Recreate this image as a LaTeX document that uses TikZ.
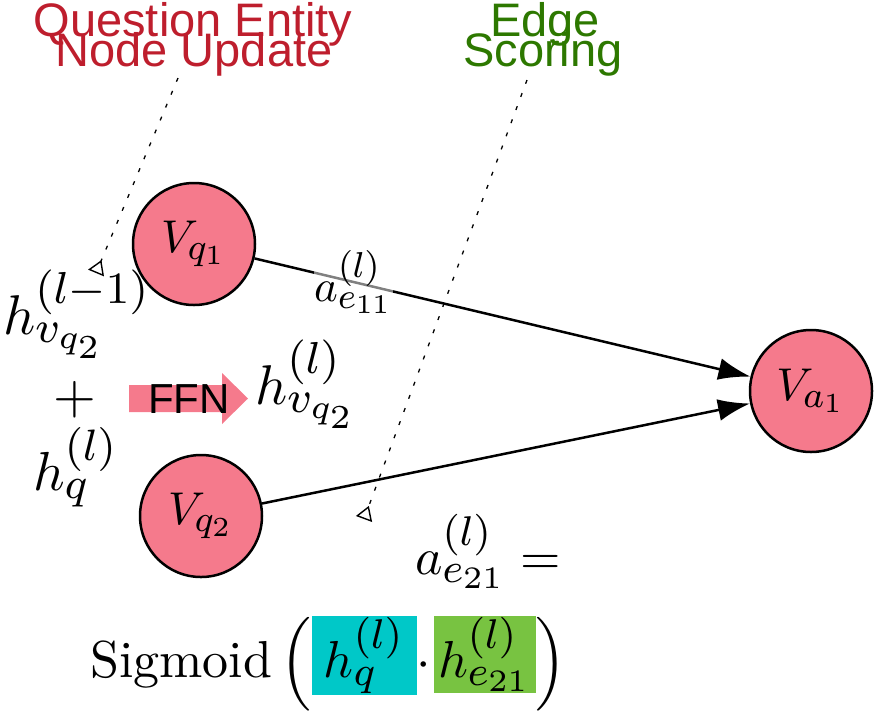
\documentclass[tikz,border=0pt]{standalone}
\usepackage{fontspec}
\newfontfamily\hv{Liberation Sans}
\DeclareMathSizes{10}{10}{8}{6}
\usetikzlibrary{arrows.meta}
\definecolor{nodepink}{RGB}{245,122,140}
\definecolor{titlered}{RGB}{190,30,45}
\definecolor{titlegreen}{RGB}{45,120,0}
\definecolor{boxcyan}{RGB}{0,200,200}
\definecolor{boxgreen}{RGB}{120,195,65}
\newcommand{\Msc}[2]{\scalebox{#1}{$#2$}}
\newcommand{\tfont}{\hv\fontsize{47}{30}\selectfont}
\tikzset{
  vnode/.style={circle, draw=black, line width=2.5pt, fill=nodepink, minimum size=122pt, inner sep=0pt},
  edgearrow/.style={line width=2.5pt, -{Latex[length=32pt,width=22pt]}},
  hint/.style={line width=1.3pt, dash pattern=on 4pt off 10pt, -{Triangle[open,reversed,length=14pt,width=17pt,line width=1.4pt]}},
  mtext/.style={inner sep=0pt},
  title/.style={font=\tfont, inner sep=0pt, anchor=base},
}
\begin{document}
\begin{tikzpicture}[x=1pt,y=-1pt]
\useasboundingbox (0,0) rectangle (874,710);
% titles
\node[title, text=titlered] (qe1) at (193,36) {Question Entity};
\node[title, text=titlered] (qe2) at (194,66) {Node Update};
\node[title, text=titlegreen] (es1) at (545,36) {Edge};
\node[title, text=titlegreen] (es2) at (543,66) {Scoring};
% nodes
\node[vnode] (q1) at (194,244) {\Msc{4.6}{V_{q_1}}};
\node[vnode] (q2) at (201,516) {\Msc{4.6}{V_{q_2}}};
\node[vnode] (a1) at (811,391) {\Msc{4.6}{V_{a_1}}};
% edges
\draw[edgearrow] (q1) -- node[pos=0.2, inner sep=0pt, fill=white, fill opacity=0.5, text opacity=1] (lab) {\Msc{4.5}{a^{(l)}_{e_{11}}}} (a1);
\draw[edgearrow] (q2) -- (a1);
% dotted hints
\coordinate (h1s) at (178,78);
\coordinate (h1e) at (96,273);
\coordinate (h2s) at (527,80);
\coordinate (h2e) at (364,519);
\draw[hint] (h1s) -- (h1e);
\draw[hint] (h2s) -- (h2e);
% left formula
\node[mtext, anchor=base west] (hprev) at (3,334) {\Msc{5.6}{h^{(l-1)}_{v_{q_2}}}};
\node[mtext] (plus) at (75,400) {\Msc{5.5}{+}};
\node[mtext, anchor=base west] (hq) at (33,490) {\Msc{5.5}{h^{(l)}_{q}}};
% FFN arrow
\fill[nodepink] (129,385) -- (222,385) -- (222,373) -- (248,398.5) -- (222,424) -- (222,412) -- (129,412) -- cycle;
\node[font=\hv\fontsize{42}{46}\selectfont, inner sep=0pt] (ffn) at (189,399) {FFN};
\node[mtext, anchor=base west] (hnew) at (255,404) {\Msc{5.6}{h^{(l)}_{v_{q_2}}}};
% scoring formula
\node[mtext, anchor=base west] (aeq) at (415,574) {\Msc{5.2}{a^{(l)}_{e_{21}} =}};
\node[mtext, anchor=base west] (sig) at (90,677) {\setlength{\fboxsep}{0.3pt}\Msc{5.2}{\mathrm{Sigmoid}\left(\colorbox{boxcyan}{\hspace{2pt}$h^{(l)}_{q}$\hspace{2pt}}{\cdot}\mkern1mu\colorbox{boxgreen}{\hspace{0.5pt}$h^{(l)}_{e_{21}}$\hspace{0.5pt}}\right)}};
\end{tikzpicture}
\end{document}
